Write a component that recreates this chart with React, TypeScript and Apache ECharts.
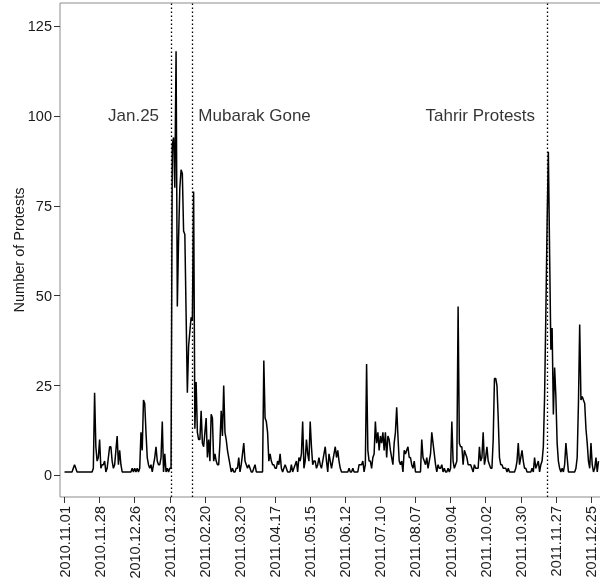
import React, { useEffect, useRef } from "react";
import * as echarts from "echarts";

// Daily number of protests (one value per day, starting at the first tick)
const protests: number[] = [
  1,
  1, 1, 1, 1, 1, 1, 2, 3, 2, 1,
  1, 1, 1, 1, 1, 1, 1, 1, 1, 1,
  1, 1, 2, 23, 8, 4, 5, 10, 2, 3,
  3, 4, 1, 2, 5, 8, 8, 4, 2, 3,
  7, 11, 3, 7, 3, 1, 1, 1, 1, 1,
  1, 1, 1, 2, 1, 2, 1, 2, 1, 2,
  12, 7, 21, 20, 12, 5, 3, 2, 3, 1,
  3, 5, 8, 4, 3, 3, 5, 15, 1, 6,
  1, 2, 1, 2, 2, 92, 94, 80, 118, 47,
  66, 80, 85, 84, 68, 67, 45, 23, 36, 40,
  44, 43, 79, 13, 26, 12, 10, 10, 18, 9,
  8, 12, 16, 5, 10, 4, 17, 16, 4, 6,
  4, 3, 3, 9, 18, 11, 25, 12, 10, 7,
  5, 3, 1, 2, 1, 1, 2, 2, 5, 1,
  3, 6, 9, 4, 3, 2, 3, 2, 1, 1,
  2, 3, 1, 1, 1, 1, 1, 1, 32, 16,
  15, 12, 4, 6, 4, 3, 3, 2, 2, 4,
  3, 6, 2, 1, 2, 3, 2, 1, 1, 1,
  3, 1, 2, 3, 4, 1, 5, 4, 6, 15,
  2, 4, 10, 6, 4, 15, 8, 3, 4, 4,
  2, 3, 5, 3, 2, 4, 6, 8, 4, 1,
  6, 4, 2, 4, 6, 8, 5, 7, 4, 2,
  1, 1, 1, 1, 1, 1, 2, 1, 1, 2,
  1, 1, 1, 1, 3, 3, 3, 4, 1, 3,
  31, 7, 4, 4, 2, 5, 6, 15, 9, 12,
  7, 11, 9, 12, 7, 12, 5, 11, 10, 7,
  5, 3, 9, 12, 19, 11, 4, 3, 4, 1,
  7, 6, 7, 8, 5, 5, 3, 2, 4, 1,
  1, 1, 1, 1, 10, 5, 4, 3, 5, 2,
  4, 6, 12, 9, 6, 3, 1, 3, 2, 2,
  3, 1, 2, 1, 1, 2, 1, 2, 15, 4,
  2, 3, 4, 47, 9, 8, 8, 3, 7, 6,
  5, 3, 3, 3, 2, 1, 3, 2, 2, 2,
  8, 4, 5, 12, 3, 5, 8, 4, 3, 2,
  2, 10, 27, 27, 25, 16, 5, 3, 3, 2,
  2, 2, 1, 2, 1, 1, 1, 1, 1, 2,
  4, 9, 3, 5, 7, 4, 2, 2, 1, 1,
  1, 1, 2, 1, 5, 2, 3, 4, 1, 3,
  4, 8, 22, 45, 70, 90, 62, 35, 41, 17,
  30, 22, 9, 4, 2, 1, 2, 1, 3, 9,
  5, 1, 1, 1, 1, 1, 1, 2, 5, 20,
  42, 21, 22, 21, 20, 13, 9, 4, 2, 9,
  3, 1, 2, 5, 1, 4,
];

const tickPositions = [0, 28, 56, 84, 112, 140, 168, 196, 224, 252, 280, 308, 336, 364, 392, 420];
const tickLabels = [
  "2010.11.01", "2010.11.28", "2010.12.26", "2011.01.23", "2011.02.20", "2011.03.20",
  "2011.04.17", "2011.05.15", "2011.06.12", "2011.07.10", "2011.08.07", "2011.09.04",
  "2011.10.02", "2011.10.30", "2011.11.27", "2011.12.25",
];
const yTicks = [0, 25, 50, 75, 100, 125];

const eventPositions = [85, 102, 385];
const eventLabels = ["Jan.25", "Mubarak Gone", "Tahrir Protests"];
const eventLabelSides = ["left", "right", "left"];
const eventLabelLevel = 100;

const FONT = "'Liberation Sans', Arial, Helvetica, sans-serif";

export default function App() {
  const ref = useRef<HTMLDivElement>(null);

  useEffect(() => {
    if (!ref.current) return;
    const chart = echarts.init(ref.current, null, { renderer: "svg" });
    const seriesData = protests.map((v, i) => [i, v]);
    const labelData = eventPositions.map((p, i) => ({
      value: [p, eventLabelLevel],
      label: {
        show: true,
        formatter: eventLabels[i],
        position: eventLabelSides[i],
        distance: eventLabelSides[i] === "left" ? 12 : 6,
      },
    }));

    chart.setOption({
      animation: false,
      textStyle: { fontFamily: FONT },
      grid: {
        left: 60,
        top: 3,
        right: -1,
        bottom: 91,
        containLabel: false,
        outerBoundsMode: "none",
        show: true,
        borderColor: "#8c8c8c",
        borderWidth: 1,
        backgroundColor: "transparent",
      },
      xAxis: {
        type: "value",
        min: -3.6,
        max: 428,
        axisLine: { show: false, onZero: false },
        splitLine: { show: false },
        axisTick: {
          show: true,
          length: 6,
          customValues: tickPositions,
          lineStyle: { color: "#333" },
        },
        axisLabel: {
          show: true,
          rotate: 90,
          margin: 9,
          fontSize: 14.5,
          color: "#1a1a1a",
          fontFamily: FONT,
          customValues: tickPositions,
          formatter: (v: number) => tickLabels[tickPositions.indexOf(Math.round(v))] ?? "",
        },
      },
      yAxis: {
        type: "value",
        min: -5.98,
        max: 131.4,
        name: "Number of Protests",
        nameLocation: "middle",
        nameGap: 34,
        nameRotate: 90,
        nameMoveOverlap: false,
        nameTextStyle: { fontSize: 14.5, color: "#1a1a1a", fontFamily: FONT },
        axisLine: { show: false, onZero: false },
        splitLine: { show: false },
        axisTick: {
          show: true,
          length: 6,
          customValues: yTicks,
          lineStyle: { color: "#333" },
        },
        axisLabel: {
          show: true,
          margin: 8,
          fontSize: 14.5,
          color: "#1a1a1a",
          fontFamily: FONT,
          customValues: yTicks,
        },
      },
      series: [
        {
          type: "line",
          data: seriesData,
          showSymbol: false,
          symbol: "none",
          lineStyle: { color: "#000", width: 1.5 },
          markLine: {
            silent: true,
            symbol: ["none", "none"],
            label: { show: false },
            lineStyle: { color: "#000", type: [1.5, 2.5], width: 1.3 },
            data: eventPositions.map((p) => ({ xAxis: p })),
          },
          z: 3,
        },
        {
          type: "scatter",
          data: labelData,
          symbolSize: 0,
          silent: true,
          label: {
            show: true,
            fontSize: 17,
            color: "#000",
            fontFamily: FONT,
          },
          z: 4,
        },
      ],
    });

    return () => chart.dispose();
  }, []);

  return (
    <div
      ref={ref}
      style={{ position: "fixed", left: 0, top: 0, width: 600, height: 588 }}
    />
  );
}
